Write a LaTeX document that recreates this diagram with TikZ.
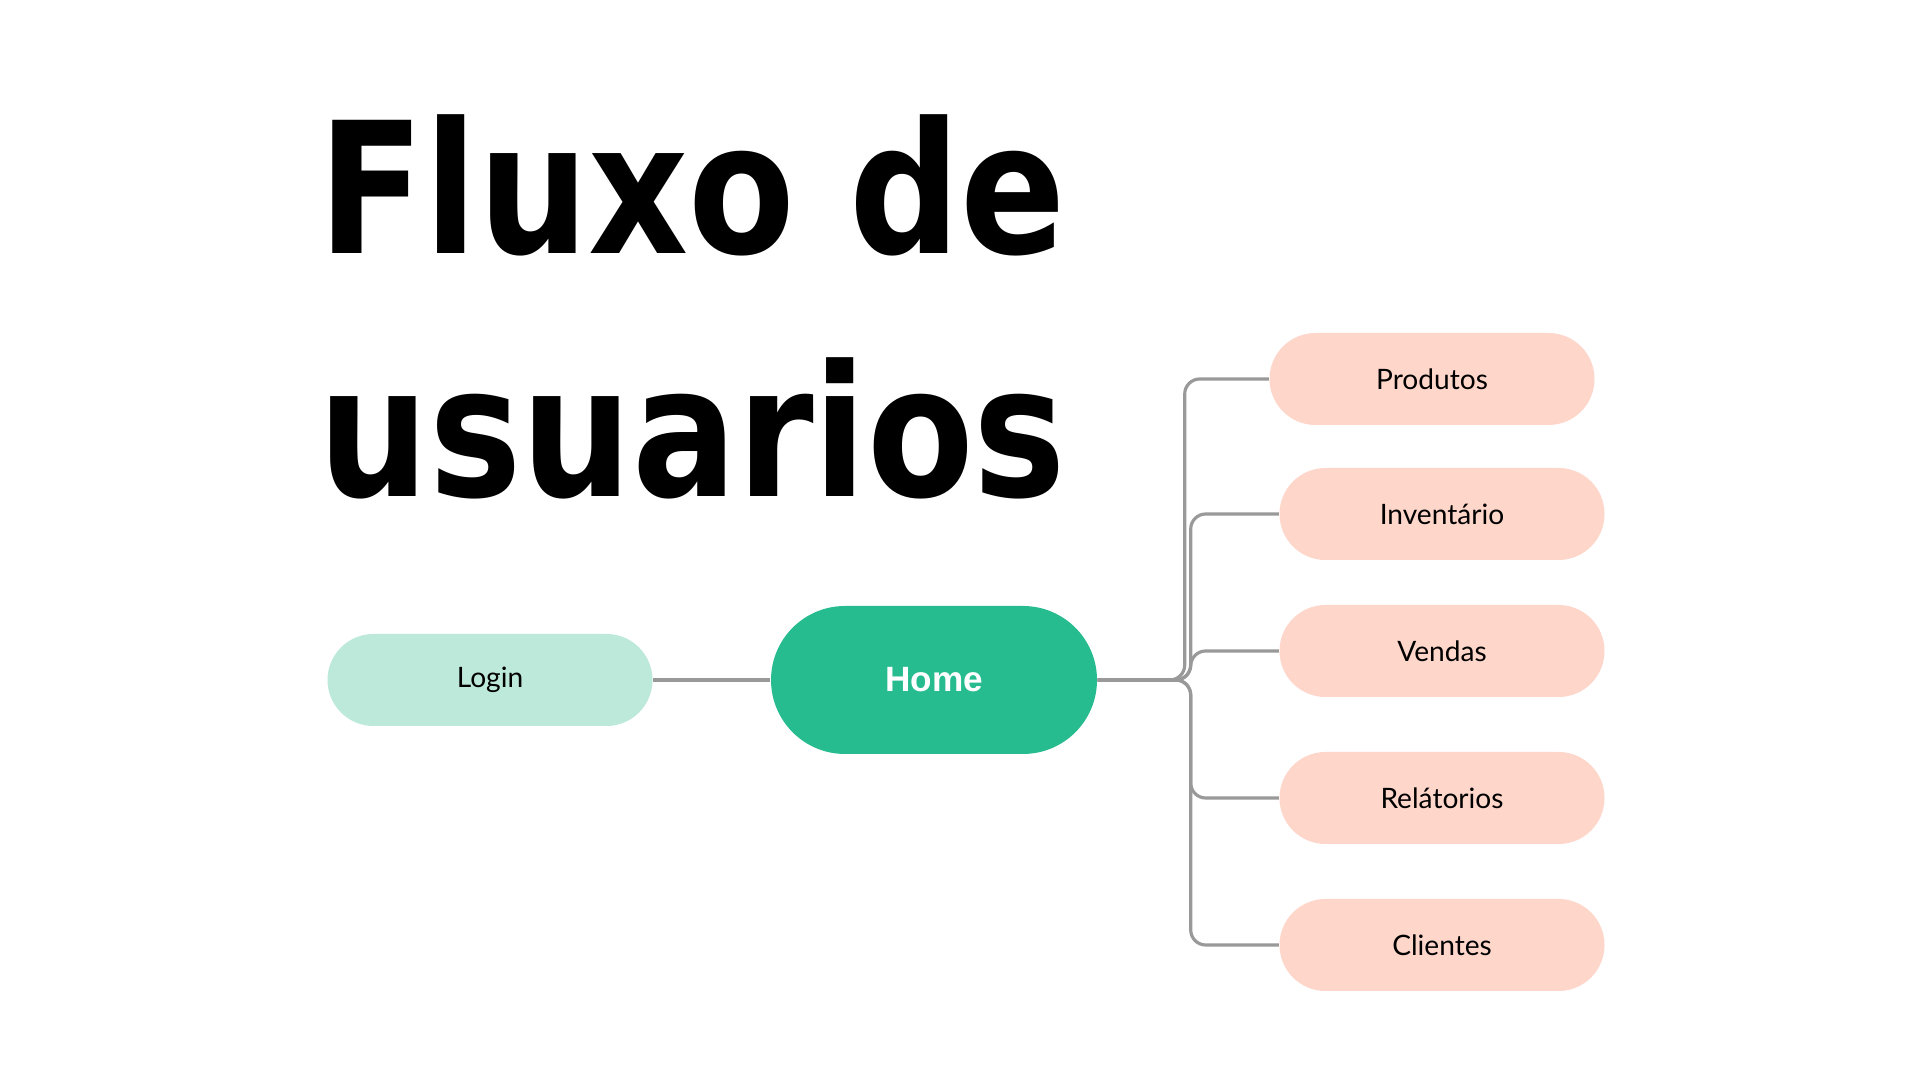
\documentclass[tikz,border=0pt]{standalone}
\usepackage{fontspec}
\setmainfont{Lato}
\newfontfamily\titlefont[FakeStretch=0.85]{DejaVu Sans}
\newfontfamily\homefont{Liberation Sans}
\usetikzlibrary{calc, positioning}

\definecolor{mint}{HTML}{BDE9DB}
\definecolor{verde}{HTML}{27BC8F}
\definecolor{rosa}{HTML}{FED6CA}
\definecolor{linha}{HTML}{999999}

\begin{document}
\begin{tikzpicture}[
  pill/.style={rounded corners=0.46cm, minimum width=3.25cm, minimum height=0.92cm,
    inner sep=0pt, font=\fontsize{8}{10}\selectfont},
  menu/.style={pill, fill=rosa},
  link/.style={draw=linha, line width=0.9pt, rounded corners=0.15cm},
  titulo/.style={anchor=base west, inner sep=0pt, font=\titlefont\bfseries\fontsize{52}{65}\selectfont}
]
\useasboundingbox (0,0) rectangle (19.2,10.8);
\fill[white] (0,0) rectangle (19.2,10.8);

% titulo
\node[titulo] (titulo1) at (3.18,8.26) {Fluxo de};
\node[titulo] (titulo2) at (3.18,5.83) {usuarios};

% telas
\node[pill, fill=mint] (login) at (4.90,4.00) {Login};
\node[pill, fill=verde, rounded corners=0.74cm, minimum width=3.26cm, minimum height=1.48cm,
  text=white, font=\homefont\bfseries\fontsize{10}{12}\selectfont] (home) at (9.34,4.00) {Home};

\node[menu] (produtos) at (14.32,7.01) {Produtos};
\node[menu] (inventario) at (14.42,5.66) {Inventário};
\node[menu] (vendas) at (14.42,4.29) {Vendas};
\node[menu] (relatorios) at (14.42,2.82) {Relátorios};
\node[menu] (clientes) at (14.42,1.35) {Clientes};

% conexoes
\draw[link] (login) -- (home);
\draw[link] (home.east) -- ++(0.87,0) |- (produtos.west);
\foreach \tela in {inventario, vendas, relatorios, clientes}
  \draw[link] (home.east) -- ++(0.93,0) |- (\tela.west);
\end{tikzpicture}
\end{document}
